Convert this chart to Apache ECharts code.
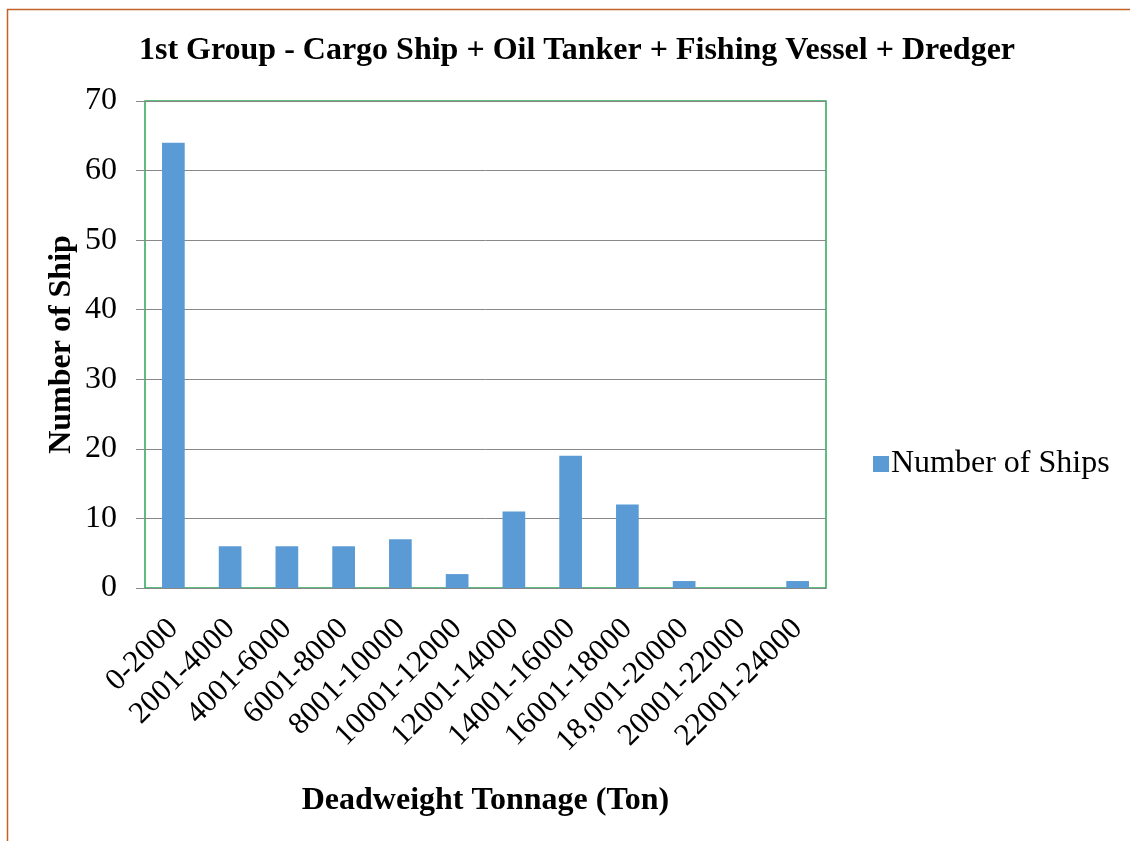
<!DOCTYPE html>
<html>
<head>
<meta charset="utf-8">
<script src="https://cdn.jsdelivr.net/npm/echarts@6/dist/echarts.min.js"></script>
<style>
html,body{margin:0;padding:0;background:#fff;}
#c{width:1130px;height:841px;}
</style>
</head>
<body>
<div id="c"></div>
<script>
var categories = ['0-2000','2001-4000','4001-6000','6001-8000','8001-10000','10001-12000','12001-14000','14001-16000','16001-18000','18,001-20000','20001-22000','22001-24000'];
var shipCounts = [64, 6, 6, 6, 7, 2, 11, 19, 12, 1, 0, 1];
var seriesName = 'Number of Ships';
var titleText = '1st Group - Cargo Ship + Oil Tanker + Fishing Vessel + Dredger';
var xAxisName = 'Deadweight Tonnage (Ton)';
var yAxisName = 'Number of Ship';

var font = '"Liberation Serif", "Times New Roman", serif';
var chart = echarts.init(document.getElementById('c'), null, {renderer: 'canvas'});
chart.setOption({
  animation: false,
  backgroundColor: '#fff',
  textStyle: {fontFamily: font},
  title: {
    text: titleText,
    left: 572, top: 30, textAlign: 'center',
    textStyle: {fontFamily: font, fontSize: 32, fontWeight: 'bold', color: '#000'}
  },
  legend: {
    data: [seriesName],
    left: 868, top: 443,
    itemWidth: 16, itemHeight: 16, itemGap: 6,
    icon: 'rect',
    textStyle: {fontFamily: font, fontSize: 32, color: '#000', padding: [0,0,0,-3]}
  },
  grid: {left: 145, top: 101, width: 681, height: 487, show: true, borderColor: '#27a855', borderWidth: 1.5, backgroundColor: 'transparent'},
  graphic: [{
    type: 'polyline', silent: true,
    shape: {points: [[7.5, 845], [7.5, 9.5], [1135, 9.5]]},
    style: {stroke: '#c0622a', lineWidth: 1.5, fill: null}
  }],
  xAxis: {
    type: 'category',
    data: categories,
    name: xAxisName,
    nameLocation: 'middle',
    nameGap: 197,
    nameMoveOverlap: false,
    nameTextStyle: {fontFamily: font, fontSize: 32, fontWeight: 'bold', color: '#000'},
    axisLine: {show: true, lineStyle: {color: '#888', width: 1}},
    axisTick: {show: false},
    axisLabel: {rotate: 45, fontFamily: font, fontSize: 31, color: '#000', margin: 36, interval: 0}
  },
  yAxis: {
    type: 'value',
    min: 0, max: 70, interval: 10,
    name: yAxisName,
    nameLocation: 'middle',
    nameGap: 67,
    nameMoveOverlap: false,
    nameTextStyle: {fontFamily: font, fontSize: 32, fontWeight: 'bold', color: '#000'},
    axisLine: {show: false},
    axisTick: {show: true, length: 9, lineStyle: {color: '#888'}},
    axisLabel: {fontFamily: font, fontSize: 32, color: '#000', margin: 28},
    splitLine: {show: true, lineStyle: {color: '#888', width: 1}}
  },
  series: [{
    name: seriesName,
    type: 'bar',
    data: shipCounts,
    barWidth: '40%',
    itemStyle: {color: '#5b9bd5'}
  }]
});
</script>
</body>
</html>
